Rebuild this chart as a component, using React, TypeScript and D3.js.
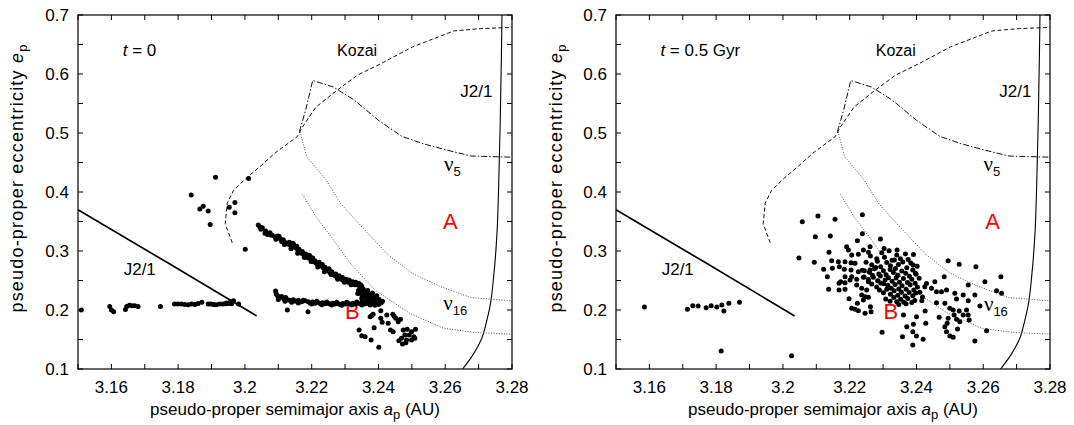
import React from 'react';
import * as d3 from 'd3';

type P = [number, number];

// ---------- axes ----------
const X_DOMAIN: [number, number] = [3.15, 3.28];
const Y_DOMAIN: [number, number] = [0.1, 0.7];
const X_TICKS = [3.15, 3.16, 3.17, 3.18, 3.19, 3.2, 3.21, 3.22, 3.23, 3.24, 3.25, 3.26, 3.27, 3.28];
const X_LABELS = [3.16, 3.18, 3.2, 3.22, 3.24, 3.26, 3.28];
const Y_TICKS = [0.1, 0.15, 0.2, 0.25, 0.3, 0.35, 0.4, 0.45, 0.5, 0.55, 0.6, 0.65, 0.7];
const Y_LABELS = [0.1, 0.2, 0.3, 0.4, 0.5, 0.6, 0.7];

// ---------- resonance borders (shared by both panels) ----------
const j21Left: P[] = [[3.15, 0.37], [3.177, 0.2795], [3.2035, 0.19]];
const j21Right: P[] = [
  [3.2652, 0.1], [3.2683, 0.124], [3.2708, 0.15], [3.2724, 0.181], [3.2734, 0.206],
  [3.2746, 0.262], [3.2755, 0.33], [3.276, 0.409], [3.2765, 0.527], [3.2768, 0.623], [3.277, 0.7],
];
const kozai: P[] = [
  [3.1962, 0.314], [3.1941, 0.346], [3.1947, 0.381], [3.1966, 0.403], [3.2005, 0.424],
  [3.2045, 0.443], [3.209, 0.466], [3.2157, 0.494], [3.2172, 0.51], [3.2213, 0.544],
  [3.2275, 0.572], [3.2337, 0.598], [3.2409, 0.618], [3.2502, 0.646], [3.2626, 0.673],
  [3.2708, 0.677], [3.28, 0.679],
];
const nu5: P[] = [
  [3.2163, 0.502], [3.2182, 0.539], [3.2203, 0.589], [3.2265, 0.578], [3.2327, 0.556],
  [3.2399, 0.522], [3.2471, 0.494], [3.2533, 0.482], [3.2605, 0.471], [3.2677, 0.461], [3.28, 0.459],
];
const nu16Outer: P[] = [
  [3.2165, 0.502], [3.2185, 0.46], [3.2244, 0.42], [3.2286, 0.381], [3.2358, 0.336],
  [3.243, 0.293], [3.2502, 0.262], [3.2585, 0.24], [3.2677, 0.221], [3.28, 0.2155],
];
const nu16Inner: P[] = [
  [3.2172, 0.396], [3.2213, 0.358], [3.2265, 0.319], [3.2316, 0.279], [3.2389, 0.234],
  [3.2492, 0.195], [3.2595, 0.169], [3.2688, 0.162], [3.28, 0.159],
];

// ---------- t = 0 asteroids ----------
const t0Row: P[] = [
  [3.151, 0.2], [3.1595, 0.206], [3.16, 0.2], [3.1607, 0.197], [3.1642, 0.201], [3.1646, 0.206],
  [3.1654, 0.208], [3.1662, 0.207], [3.167, 0.207], [3.168, 0.206], [3.1747, 0.206],
  [3.1789, 0.21], [3.1799, 0.21], [3.181, 0.21], [3.182, 0.2095], [3.183, 0.209], [3.184, 0.21],
  [3.185, 0.2095], [3.186, 0.211], [3.1871, 0.213], [3.189, 0.21], [3.1898, 0.21], [3.1906, 0.2095],
  [3.1914, 0.209], [3.1924, 0.21], [3.1934, 0.21], [3.1942, 0.2105], [3.195, 0.211], [3.1957, 0.214],
  [3.1966, 0.2157], [3.1981, 0.21], [3.1945, 0.212], [3.196, 0.2105],
];
const t0Scatter: P[] = [
  [3.1912, 0.425], [3.1839, 0.395], [3.1865, 0.371], [3.1875, 0.376], [3.189, 0.368],
  [3.1896, 0.345], [3.1953, 0.374], [3.197, 0.382], [3.197, 0.365], [3.2001, 0.303], [3.2011, 0.423],
];
const t0UpperBand: P[] = [
  [3.204, 0.344], [3.2045, 0.3405], [3.2052, 0.3395], [3.206, 0.33], [3.2068, 0.328], [3.2075, 0.331],
  [3.2082, 0.3265], [3.209, 0.324], [3.2098, 0.3255], [3.2105, 0.321], [3.211, 0.316], [3.2115, 0.319],
  [3.2122, 0.314], [3.2128, 0.312], [3.2133, 0.315], [3.214, 0.308], [3.2146, 0.311], [3.2152, 0.305],
  [3.2158, 0.302], [3.2165, 0.299], [3.217, 0.296], [3.2176, 0.2935], [3.218, 0.2905], [3.2185, 0.292],
  [3.219, 0.288], [3.2196, 0.29], [3.22, 0.285], [3.2205, 0.282], [3.221, 0.2835], [3.2215, 0.279],
  [3.222, 0.276], [3.2225, 0.278], [3.223, 0.274], [3.2235, 0.271], [3.224, 0.2725], [3.2245, 0.268],
  [3.225, 0.266], [3.2255, 0.263], [3.226, 0.265], [3.2265, 0.26], [3.227, 0.258], [3.2275, 0.256],
  [3.228, 0.254], [3.2285, 0.256], [3.229, 0.252], [3.2295, 0.25], [3.23, 0.249], [3.2305, 0.251],
  [3.231, 0.247], [3.2315, 0.248], [3.232, 0.245], [3.2325, 0.247], [3.233, 0.243], [3.2335, 0.245],
  [3.234, 0.242], [3.2345, 0.238], [3.235, 0.24],
];
const t0UpperBandInner: P[] = [
  [3.2048, 0.337], [3.2062, 0.334], [3.2078, 0.327], [3.2093, 0.32], [3.2102, 0.325], [3.2118, 0.315],
  [3.2135, 0.31], [3.2143, 0.313], [3.2155, 0.308], [3.2162, 0.303], [3.2172, 0.299], [3.2182, 0.295],
  [3.2193, 0.293], [3.2203, 0.288], [3.2212, 0.28], [3.2222, 0.281], [3.2232, 0.277], [3.2242, 0.269],
  [3.2252, 0.27], [3.2262, 0.262], [3.2272, 0.261], [3.2282, 0.258], [3.2292, 0.255], [3.2302, 0.252],
  [3.2312, 0.251], [3.2322, 0.248], [3.2332, 0.247], [3.2342, 0.245], [3.2348, 0.242], [3.2318, 0.243],
  [3.2298, 0.247], [3.2278, 0.252], [3.2258, 0.26], [3.2238, 0.265], [3.2218, 0.273], [3.2198, 0.282],
  [3.2178, 0.289], [3.2158, 0.296], [3.2138, 0.304], [3.2118, 0.311],
];
const t0LowerBand: P[] = [
  [3.2092, 0.232], [3.2094, 0.227], [3.2098, 0.224], [3.2103, 0.2215], [3.211, 0.223], [3.2116, 0.219],
  [3.2122, 0.221], [3.213, 0.217], [3.2138, 0.216], [3.2145, 0.2175], [3.2152, 0.215], [3.216, 0.2165],
  [3.217, 0.214], [3.218, 0.2155], [3.219, 0.214], [3.2195, 0.212], [3.2203, 0.2135], [3.221, 0.2115],
  [3.2218, 0.213], [3.2225, 0.211], [3.2233, 0.2125], [3.224, 0.2105], [3.2248, 0.2115], [3.2255, 0.21],
  [3.2263, 0.2115], [3.227, 0.21], [3.2278, 0.211], [3.2285, 0.2095], [3.2293, 0.211], [3.23, 0.21],
  [3.2308, 0.2115], [3.2315, 0.21], [3.2323, 0.211], [3.233, 0.21], [3.2338, 0.2115], [3.2345, 0.2105],
  [3.2352, 0.212], [3.2358, 0.21], [3.2365, 0.2115], [3.2372, 0.2105], [3.238, 0.21], [3.2388, 0.2115],
  [3.2395, 0.2105], [3.24, 0.2095], [3.2127, 0.2], [3.2189, 0.197],
];
const t0LowerBandInner: P[] = [
  [3.21, 0.218], [3.212, 0.215], [3.214, 0.213], [3.216, 0.212], [3.2175, 0.2165], [3.22, 0.21],
  [3.2215, 0.215], [3.223, 0.209], [3.2245, 0.2135], [3.226, 0.2085], [3.2275, 0.213], [3.229, 0.208],
  [3.2305, 0.213], [3.232, 0.2085], [3.2335, 0.2135], [3.235, 0.2085], [3.2362, 0.214], [3.2375, 0.2085],
  [3.2392, 0.213],
];
const t0Merge: P[] = [
  [3.234, 0.233], [3.2345, 0.229], [3.235, 0.226], [3.2355, 0.23], [3.236, 0.224], [3.2365, 0.22],
  [3.237, 0.225], [3.2375, 0.218], [3.238, 0.221], [3.2385, 0.215], [3.239, 0.219], [3.2395, 0.213],
  [3.24, 0.216], [3.236, 0.212], [3.237, 0.214], [3.2345, 0.232], [3.235, 0.22], [3.2355, 0.235],
  [3.2362, 0.228], [3.2368, 0.233], [3.2375, 0.226], [3.2382, 0.229], [3.2388, 0.223], [3.2395, 0.224],
  [3.2402, 0.218], [3.2408, 0.212], [3.2412, 0.215], [3.2338, 0.228], [3.2352, 0.216], [3.2366, 0.217],
  [3.2378, 0.213], [3.239, 0.208],
];
const t0Tail: P[] = [
  [3.2375, 0.1886], [3.238, 0.1905], [3.2384, 0.1927], [3.2407, 0.1988], [3.2407, 0.1859], [3.2411, 0.1791],
  [3.2425, 0.1915], [3.2429, 0.1774], [3.2443, 0.1927], [3.2447, 0.1895], [3.2452, 0.1859], [3.2459, 0.1802],
  [3.2466, 0.1842], [3.2436, 0.166], [3.2444, 0.1632], [3.2342, 0.166], [3.235, 0.1564], [3.236, 0.1547],
  [3.2378, 0.1491], [3.2387, 0.17], [3.2401, 0.1367], [3.2474, 0.166], [3.2486, 0.1672], [3.2499, 0.1632],
  [3.2511, 0.1672], [3.2479, 0.1576], [3.2492, 0.1576], [3.2506, 0.1547], [3.2469, 0.152], [3.2484, 0.1491],
  [3.2499, 0.1491], [3.2472, 0.1424], [3.2482, 0.1446], [3.2509, 0.152], [3.2461, 0.148],
];

// ---------- t = 0.5 Gyr asteroids ----------
const g5Left: P[] = [
  [3.1585, 0.205], [3.1714, 0.2011], [3.173, 0.2073], [3.1746, 0.2068], [3.177, 0.2039], [3.1785, 0.2073],
  [3.1802, 0.205], [3.1817, 0.2085], [3.1823, 0.1983], [3.1838, 0.2113], [3.187, 0.213],
  [3.1815, 0.1305], [3.2026, 0.1225],
];
const g5Core: P[] = [
  [3.2262, 0.2915], [3.2281, 0.2868], [3.2296, 0.2972], [3.2304, 0.2893], [3.2327, 0.2843], [3.2318, 0.3003],
  [3.2341, 0.2931], [3.2352, 0.2869], [3.2367, 0.2951], [3.2375, 0.2858], [3.2391, 0.2942], [3.2256, 0.2978],
  [3.2249, 0.2811], [3.2266, 0.2768], [3.2283, 0.2826], [3.2293, 0.2733], [3.2311, 0.2804], [3.2322, 0.2751],
  [3.2334, 0.2847], [3.2346, 0.2772], [3.2359, 0.2813], [3.2371, 0.2716], [3.2383, 0.2795], [3.2402, 0.2741],
  [3.2278, 0.2719], [3.2337, 0.2702], [3.2238, 0.2673], [3.2259, 0.2641], [3.2274, 0.2698], [3.2287, 0.2612],
  [3.2301, 0.2667], [3.2309, 0.2598], [3.2321, 0.2686], [3.2331, 0.2634], [3.2344, 0.2587], [3.2356, 0.2661],
  [3.2368, 0.2621], [3.2379, 0.2574], [3.2389, 0.2679], [3.2399, 0.2608], [3.2268, 0.2587], [3.2243, 0.2561],
  [3.2256, 0.2519], [3.2271, 0.2553], [3.2284, 0.2496], [3.2292, 0.2577], [3.2306, 0.2508], [3.2316, 0.2547],
  [3.2327, 0.2489], [3.2339, 0.2542], [3.2349, 0.2471], [3.2361, 0.2533], [3.2373, 0.2467], [3.2386, 0.2521],
  [3.2396, 0.2452], [3.2408, 0.2538], [3.2302, 0.2443], [3.2266, 0.2442], [3.2281, 0.2389], [3.2293, 0.2458],
  [3.2314, 0.2418], [3.2324, 0.2367], [3.2336, 0.2431], [3.2347, 0.2358], [3.2357, 0.2411], [3.2369, 0.2352],
  [3.2381, 0.2427], [3.2392, 0.2339], [3.2403, 0.2391], [3.2289, 0.2338], [3.2301, 0.2291], [3.2311, 0.2352],
  [3.2322, 0.2269], [3.2333, 0.2326], [3.2344, 0.2251], [3.2355, 0.2302], [3.2366, 0.2238], [3.2378, 0.2297],
  [3.2389, 0.2241], [3.2398, 0.2287], [3.2308, 0.2186], [3.2321, 0.2149], [3.2332, 0.2213], [3.2341, 0.2141],
  [3.2353, 0.2182], [3.2362, 0.2131], [3.2374, 0.2193], [3.2386, 0.2128], [3.2395, 0.2161], [3.2347, 0.2092],
  [3.2369, 0.2104],
];
const g5Scatter: P[] = [
  [3.2058, 0.3497], [3.2105, 0.3593], [3.2156, 0.3537], [3.2238, 0.3615], [3.2097, 0.3242], [3.2142, 0.3254],
  [3.2238, 0.3293], [3.2223, 0.3174], [3.2048, 0.2881], [3.2094, 0.2808], [3.2138, 0.2977], [3.2122, 0.269],
  [3.2148, 0.2707], [3.2133, 0.2564], [3.2137, 0.235], [3.2168, 0.2339], [3.2173, 0.2479], [3.2198, 0.2191],
  [3.2206, 0.2028], [3.2216, 0.2011], [3.2226, 0.1988], [3.2246, 0.1944], [3.2264, 0.1971], [3.2223, 0.2113],
  [3.2241, 0.2169], [3.2262, 0.2056], [3.2246, 0.2226], [3.2196, 0.3017], [3.2191, 0.3073], [3.2206, 0.2932],
  [3.2226, 0.2944], [3.2241, 0.3017], [3.2261, 0.3073], [3.2146, 0.2836], [3.2166, 0.2819], [3.2186, 0.2819],
  [3.2204, 0.2802], [3.2216, 0.2791], [3.2169, 0.2734], [3.2184, 0.269], [3.2204, 0.2678], [3.2226, 0.2649],
  [3.2244, 0.2666], [3.2261, 0.2678], [3.2186, 0.2564], [3.2206, 0.2564], [3.2221, 0.252], [3.2241, 0.2554],
  [3.2256, 0.2479], [3.2168, 0.2452], [3.2186, 0.2462], [3.2201, 0.2508], [3.2221, 0.2423], [3.2236, 0.2367],
  [3.2251, 0.2339], [3.2186, 0.235], [3.2236, 0.2254], [3.2256, 0.2215],
  [3.2495, 0.2836], [3.2528, 0.2774], [3.2578, 0.2734], [3.2653, 0.2564], [3.2605, 0.2479], [3.264, 0.2327],
  [3.2655, 0.2283], [3.2483, 0.2564], [3.2455, 0.2479], [3.2445, 0.2367], [3.246, 0.231], [3.2475, 0.231],
  [3.249, 0.2339], [3.2515, 0.2283], [3.252, 0.2186], [3.254, 0.2254], [3.2555, 0.2157], [3.2575, 0.2254],
  [3.259, 0.2068], [3.246, 0.2124], [3.2485, 0.2113], [3.25, 0.2028], [3.251, 0.2], [3.2528, 0.1983],
  [3.254, 0.1915], [3.255, 0.2], [3.2555, 0.1915], [3.2558, 0.183], [3.2513, 0.1915], [3.252, 0.1842],
  [3.253, 0.1802], [3.2495, 0.1859], [3.2492, 0.1774], [3.2485, 0.1717], [3.249, 0.1632], [3.25, 0.1559],
  [3.251, 0.1537], [3.2523, 0.1678], [3.2468, 0.1876], [3.2426, 0.1983], [3.2416, 0.2157], [3.24, 0.1886],
  [3.2428, 0.1774], [3.2391, 0.1757], [3.2371, 0.1717], [3.2361, 0.1915], [3.2389, 0.1632], [3.24, 0.1559],
  [3.242, 0.1503], [3.2358, 0.1547], [3.2389, 0.1407], [3.2297, 0.1622], [3.2575, 0.1474], [3.261, 0.1649],
  [3.2555, 0.2423], [3.2292, 0.3202], [3.2303, 0.3044], [3.2342, 0.3016], [3.239, 0.2762], [3.2397, 0.2621],
  [3.2425, 0.2395], [3.241, 0.23], [3.2418, 0.222], [3.243, 0.245],
];

// ---------- panel label anchors (data coordinates) ----------
const leftTexts = { t: [3.1634, 0.631] as P, kozai: [3.2336, 0.631] as P, j21r: [3.2693, 0.561] as P,
  nu5: [3.2596, 0.436] as P, nu16: [3.2594, 0.2] as P, A: [3.2615, 0.337] as P, B: [3.2322, 0.185] as P,
  j21l: [3.1685, 0.259] as P };
const rightTexts = { t: [3.1633, 0.631] as P, kozai: [3.2338, 0.631] as P, j21r: [3.2696, 0.561] as P,
  nu5: [3.2601, 0.436] as P, nu16: [3.2602, 0.199] as P, A: [3.2628, 0.337] as P, B: [3.2323, 0.185] as P,
  j21l: [3.1685, 0.259] as P };

const TOP = 15;
const BOTTOM = 369;
const FONT = '"Liberation Sans", Arial, Helvetica, sans-serif';
const NUFONT = '"Liberation Serif", "DejaVu Serif", serif';

function Panel({ id, left, right, tLabel, texts, groups, titleX }: {
  id: string; left: number; right: number; tLabel: string; texts: typeof leftTexts; groups: P[][]; titleX: number;
}) {
  const x = d3.scaleLinear().domain(X_DOMAIN).range([left, right]);
  const y = d3.scaleLinear().domain(Y_DOMAIN).range([BOTTOM, TOP]);
  const line = d3.line<P>().x(d => x(d[0])).y(d => y(d[1]));
  const smoothY = d3.line<P>().x(d => x(d[0])).y(d => y(d[1])).curve(d3.curveMonotoneY);
  const tick = 5;
  const tx = (p: P) => x(p[0]);
  const ty = (p: P) => y(p[1]);
  return (
    <g>
      <defs>
        <clipPath id={`clip-${id}`}>
          <rect x={left} y={TOP} width={right - left} height={BOTTOM - TOP} />
        </clipPath>
      </defs>
      <g clipPath={`url(#clip-${id})`} fill="none">
        <path d={line(j21Left) || ''} stroke="#000" strokeWidth={1.7} />
        <path d={smoothY(j21Right) || ''} stroke="#000" strokeWidth={1.1} />
        <path d={line(kozai) || ''} stroke="#111" strokeWidth={1} strokeDasharray="4 2.5" />
        <path d={line(nu5) || ''} stroke="#111" strokeWidth={1} strokeDasharray="6 2 1.5 2" />
        <path d={line(nu16Outer) || ''} stroke="#555" strokeWidth={1} strokeDasharray="1 1.6" />
        <path d={line(nu16Inner) || ''} stroke="#555" strokeWidth={1} strokeDasharray="1 1.6" />
      </g>
      <g fontFamily={FONT} fontSize={17} fill="#000">
        <text x={tx(texts.t)} y={ty(texts.t)}><tspan fontStyle="italic">t</tspan>{' = ' + tLabel}</text>
        <text x={tx(texts.kozai)} y={ty(texts.kozai)} textAnchor="middle" fontSize={16}>Kozai</text>
        <text x={tx(texts.j21r)} y={ty(texts.j21r)} textAnchor="middle">J2/1</text>
        <text x={tx(texts.j21l)} y={ty(texts.j21l)} textAnchor="middle">J2/1</text>
        <text x={tx(texts.nu5)} y={ty(texts.nu5)}><tspan fontFamily={NUFONT} fontSize={21}>ν</tspan><tspan fontSize={13} dy={5}>5</tspan></text>
        <text x={tx(texts.nu16)} y={ty(texts.nu16)}><tspan fontFamily={NUFONT} fontSize={21}>ν</tspan><tspan fontSize={13} dy={5}>16</tspan></text>
        <text x={tx(texts.A)} y={ty(texts.A)} textAnchor="middle" fontSize={22} fill="#ff0000">A</text>
        <text x={tx(texts.B)} y={ty(texts.B)} textAnchor="middle" fontSize={22} fill="#ff0000">B</text>
      </g>
      <g fill="#000">
        {groups.map((g, gi) => g.map((p, i) => (
          <circle key={`${gi}-${i}`} cx={x(p[0])} cy={y(p[1])} r={2.5} />
        )))}
      </g>
      <rect x={left} y={TOP} width={right - left} height={BOTTOM - TOP} fill="none" stroke="#000" strokeWidth={1.2} />
      <g stroke="#000" strokeWidth={1}>
        {X_TICKS.map(t => (
          <g key={`xt${t}`}>
            <line x1={x(t)} x2={x(t)} y1={BOTTOM} y2={BOTTOM - tick} />
            <line x1={x(t)} x2={x(t)} y1={TOP} y2={TOP + tick} />
          </g>
        ))}
        {Y_TICKS.map(t => (
          <g key={`yt${t}`}>
            <line x1={left} x2={left + tick} y1={y(t)} y2={y(t)} />
            <line x1={right} x2={right - tick} y1={y(t)} y2={y(t)} />
          </g>
        ))}
      </g>
      <g fontFamily={FONT} fontSize={17} fill="#000">
        {X_LABELS.map(t => (
          <text key={`xl${t}`} x={x(t)} y={BOTTOM + 24} textAnchor="middle">{String(t)}</text>
        ))}
        {Y_LABELS.map(t => (
          <text key={`yl${t}`} x={left - 9} y={y(t) + 6} textAnchor="end">{String(t)}</text>
        ))}
        <text x={(left + right) / 2} y={415} textAnchor="middle">
          pseudo-proper semimajor axis <tspan fontStyle="italic">a</tspan><tspan fontSize={13} dy={4}>p</tspan><tspan dy={-4}> (AU)</tspan>
        </text>
        <text transform={`translate(${titleX},178) rotate(-90)`} textAnchor="middle" fontSize={18} letterSpacing={1.2}>
          pseudo-proper eccentricity <tspan fontStyle="italic">e</tspan><tspan fontSize={13} dy={4}>p</tspan>
        </text>
      </g>
    </g>
  );
}

export default function App() {
  return (
    <div style={{ margin: 0, padding: 0 }}>
      <style>{`body{margin:0;padding:0;background:#fff}`}</style>
      <svg width={1074} height={425} viewBox="0 0 1074 425" style={{ display: 'block', background: '#fff' }}>
        <Panel id="l" left={78} right={512} tLabel="0" texts={leftTexts} titleX={23}
          groups={[t0Row, t0Scatter, t0UpperBand, t0UpperBandInner, t0LowerBand, t0LowerBandInner, t0Merge, t0Tail]} />
        <Panel id="r" left={616} right={1050} tLabel="0.5 Gyr" texts={rightTexts} titleX={562}
          groups={[g5Left, g5Core, g5Scatter]} />
      </svg>
    </div>
  );
}
